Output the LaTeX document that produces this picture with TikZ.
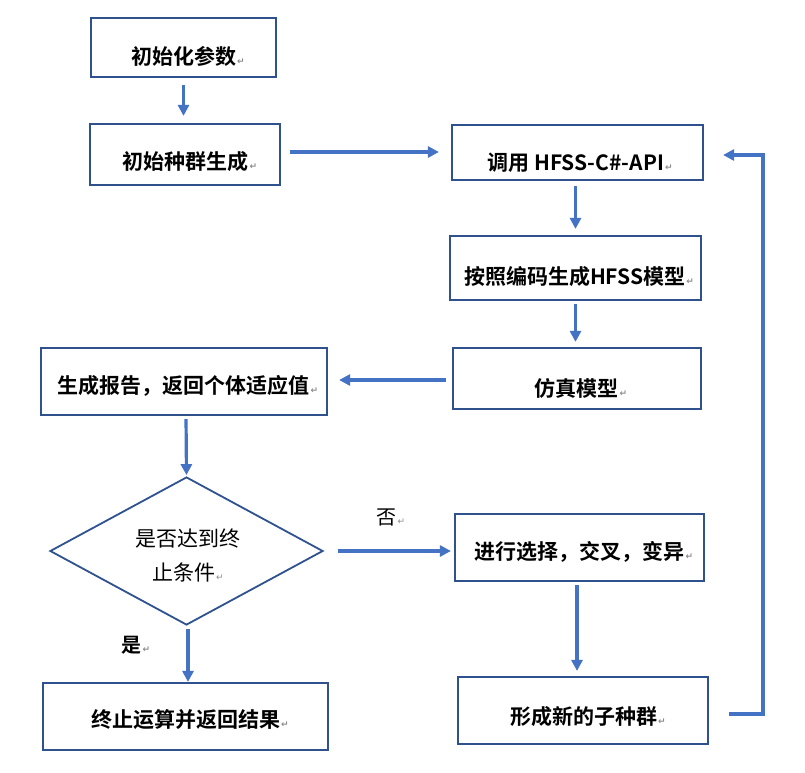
\documentclass[tikz,border=0pt]{standalone}
\usepackage{fontspec}
\setmainfont{Noto Sans CJK SC}[BoldFont={Noto Sans CJK SC Bold}]
\newfontfamily\symfont{DejaVu Sans}
\usetikzlibrary{arrows.meta,shapes.geometric,calc}
\definecolor{boxblue}{HTML}{2F528F}
\definecolor{arrblue}{HTML}{4472C4}
\definecolor{markgray}{HTML}{8C8C8C}
\newcommand\retmark{\hspace{1pt}{\color{markgray}\symfont\fontsize{9}{9}\selectfont ↵}}
\tikzset{
  box/.style={draw=boxblue, line width=2.2pt, inner sep=0pt, fill=white},
  dia/.style={draw=boxblue, line width=1.8pt, diamond, inner sep=0pt},
  txt/.style={font=\fontsize{21}{24}\selectfont\bfseries, inner sep=0pt, text=black},
  txtreg/.style={font=\fontsize{21}{34}\selectfont, inner sep=0pt, text=black, align=center},
  conn/.style={draw=arrblue, line width=3.2pt, -{Triangle[length=11pt,width=11pt]}}
}
\begin{document}
\begin{tikzpicture}[x=1pt,y=-1pt]
\useasboundingbox[fill=white] (0,0) rectangle (805,772);

% boxes
\node[box, minimum width=185, minimum height=59] (b1) at (183.5,47.5) {};
\node[box, minimum width=190, minimum height=61] (b2) at (185,154.5) {};
\node[box, minimum width=251, minimum height=55] (b3) at (577.5,152.5) {};
\node[box, minimum width=251, minimum height=64] (b4) at (575.5,268) {};
\node[box, minimum width=248, minimum height=61] (b5) at (577,378.5) {};
\node[box, minimum width=286, minimum height=67] (b6) at (184,381.5) {};
\node[dia, minimum width=273, minimum height=148] (d) at (186.5,551) {};
\node[box, minimum width=249, minimum height=67] (b7) at (579.5,547.5) {};
\node[box, minimum width=250, minimum height=67] (b8) at (583,710.5) {};
\node[box, minimum width=285, minimum height=67] (b9) at (185.5,716.5) {};

% texts
\node[txt] (t1) at (188,56) {初始化参数\retmark};
\node[txt] (t2) at (190,162) {初始种群生成\retmark};
\node[txt] (t3) at (580,163) {调用 HFSS-C\#-API\retmark};
\node[txt] (t4) at (579,277) {按照编码生成HFSS模型\retmark};
\node[txt] (t5) at (581,388) {仿真模型\retmark};
\node[txt] (t6) at (188,386) {生成报告，返回个体适应值\retmark};
\node[txtreg] (t7) at (188,555) {是否达到终\\止条件\retmark};
\node[txt] (t8) at (584,552) {进行选择，交叉，变异\retmark};
\node[txt] (t9) at (588,717) {形成新的子种群\retmark};
\node[txt] (t10) at (190,720) {终止运算并返回结果\retmark};
\node[txtreg, font=\fontsize{20}{24}\selectfont] (no) at (391,517) {否\retmark};
\node[txt, font=\fontsize{20}{24}\selectfont\bfseries] (yes) at (136,645) {是\retmark};

% connectors
\draw[conn, shorten <=7pt, shorten >=7pt] (b1.south) -- (b1.south |- b2.north);
\draw[conn, shorten <=9pt, shorten >=12pt] ([yshift=2.5pt]b2.east) -- ([yshift=2.5pt]b2.east -| b3.west);
\draw[conn, shorten <=5pt, shorten >=6pt] ([xshift=-2pt]b3.south) -- ([xshift=-2pt]b3.south |- b4.north);
\draw[conn, shorten <=3pt, shorten >=5pt] (b4.south) -- (b4.south |- b5.north);
\draw[conn, shorten <=6pt, shorten >=11pt] ([yshift=-1.5pt]b5.west) -- ([yshift=-1.5pt]b5.west -| b6.east);
\draw[conn, shorten <=3pt, shorten >=1pt] ([xshift=2pt]b6.south) -- (d.north);
\draw[conn, shorten <=14pt, shorten >=3pt] (d.east) -- (d.east -| b7.west);
\draw[conn, shorten <=3pt, shorten >=0pt] ([xshift=1.5pt]d.south) -- ([xshift=1.5pt]d.south |- b9.north);
\draw[conn, shorten <=3pt, shorten >=5pt] ([xshift=-2.5pt]b7.south) -- ([xshift=-2.5pt]b7.south |- b8.north);
\coordinate (loopx) at (763,0);
\draw[conn, shorten <=20pt, shorten >=19pt] ([yshift=-3.5pt]b8.east) -- ([yshift=-3.5pt]b8.east -| loopx) -- ([yshift=-2.5pt]b3.east -| loopx) -- ([yshift=-2.5pt]b3.east);
\end{tikzpicture}
\end{document}
